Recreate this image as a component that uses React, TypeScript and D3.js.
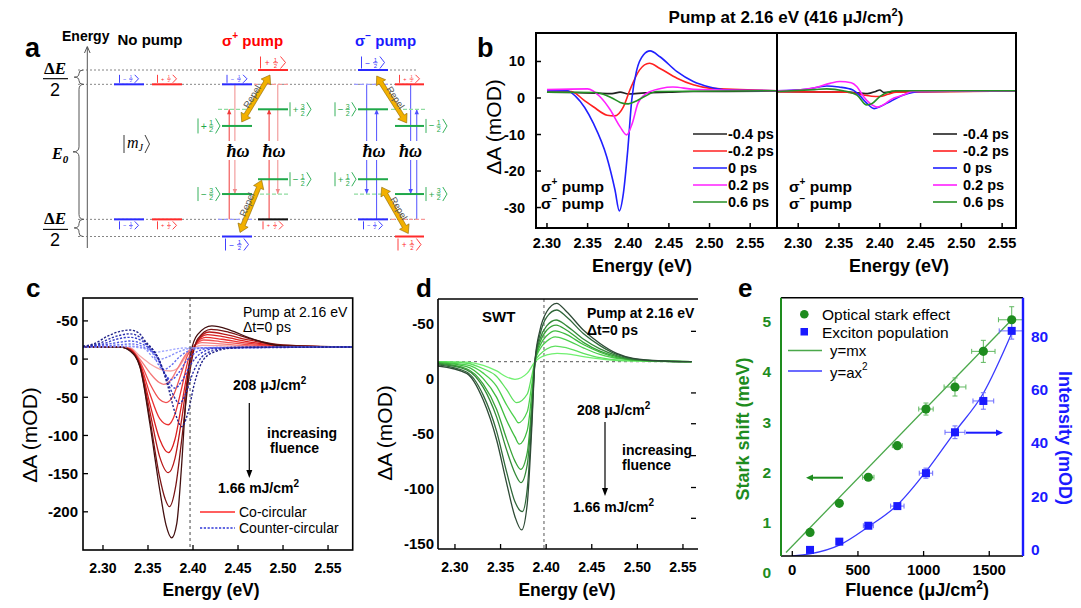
import React from "react";
import * as d3 from "d3";

type Pt = [number, number];

const SANS = "'Liberation Sans', Arial, Helvetica, sans-serif";
const SERIF = "'Liberation Serif', 'DejaVu Serif', 'Times New Roman', serif";

// ================= Panel a (schematic) =================
const aLevelEnergy: Record<string, number> = { bot: 0, lo: 0.103, gLo: 0.255, gLoS: 0.344, gUpS: 0.664, gUp: 0.764, up: 0.914, top: 1 };
const aColumns: Record<string, [number, number]> = { np1: [114, 144], np2: [152, 182], p1: [222, 252], p2: [258, 288], m1: [358, 388], m2: [395, 424] };
const aDashedGuides = ["top", "up", "lo", "bot"];
const A_B = "#2a2aff", A_R = "#ff2a2a", A_G = "#1fa84a", A_LB = "#9a9aff", A_LR = "#f79a9a", A_LG = "#8fdca0";
type Ket = { s: string; n: string; d: string; pos: string; h: number; w: number; color?: string };
type Level = { col: string; lvl: string; color: string; dash?: boolean; ket?: Ket };
const aLevels: Level[] = [
  { col: "np1", lvl: "up", color: A_B, ket: { s: "−", n: "1", d: "2", pos: "above", h: 8, w: 19 } },
  { col: "np2", lvl: "up", color: A_R, ket: { s: "+", n: "1", d: "2", pos: "above", h: 8, w: 19 } },
  { col: "np1", lvl: "lo", color: A_B, ket: { s: "−", n: "1", d: "2", pos: "below", h: 8, w: 19 } },
  { col: "np2", lvl: "lo", color: A_R, ket: { s: "+", n: "1", d: "2", pos: "below", h: 8, w: 19 } },
  { col: "p1", lvl: "up", color: A_B, ket: { s: "−", n: "1", d: "2", pos: "above", h: 8, w: 20 } },
  { col: "p2", lvl: "top", color: A_R, ket: { s: "+", n: "1", d: "2", pos: "above", h: 12, w: 25 } },
  { col: "p2", lvl: "up", color: A_LR, dash: true },
  { col: "p1", lvl: "gUp", color: A_LG, dash: true },
  { col: "p1", lvl: "gUpS", color: A_G, ket: { s: "+", n: "1", d: "2", pos: "left", h: 15, w: 22 } },
  { col: "p2", lvl: "gUp", color: A_G, ket: { s: "+", n: "3", d: "2", pos: "right", h: 14, w: 21 } },
  { col: "p1", lvl: "gLo", color: A_G, ket: { s: "−", n: "3", d: "2", pos: "left", h: 14, w: 22 } },
  { col: "p2", lvl: "gLoS", color: A_G, ket: { s: "−", n: "1", d: "2", pos: "right", h: 14, w: 21 } },
  { col: "p2", lvl: "gLo", color: A_LG, dash: true },
  { col: "p1", lvl: "lo", color: A_LB, dash: true },
  { col: "p2", lvl: "lo", color: "#111111", ket: { s: "+", n: "1", d: "2", pos: "below", h: 8, w: 20, color: A_R } },
  { col: "p1", lvl: "bot", color: A_B, ket: { s: "−", n: "1", d: "2", pos: "below", h: 12, w: 23 } },
  { col: "m1", lvl: "top", color: A_B, ket: { s: "−", n: "1", d: "2", pos: "above", h: 12, w: 23 } },
  { col: "m1", lvl: "up", color: A_LB, dash: true },
  { col: "m2", lvl: "up", color: A_R, ket: { s: "+", n: "1", d: "2", pos: "above", h: 8, w: 20 } },
  { col: "m1", lvl: "gUp", color: A_G, ket: { s: "−", n: "3", d: "2", pos: "left", h: 14, w: 21 } },
  { col: "m2", lvl: "gUp", color: A_LG, dash: true },
  { col: "m2", lvl: "gUpS", color: A_G, ket: { s: "−", n: "1", d: "2", pos: "right", h: 14, w: 21 } },
  { col: "m1", lvl: "gLoS", color: A_G, ket: { s: "+", n: "1", d: "2", pos: "left", h: 14, w: 21 } },
  { col: "m1", lvl: "gLo", color: A_LG, dash: true },
  { col: "m2", lvl: "gLo", color: A_G, ket: { s: "+", n: "3", d: "2", pos: "right", h: 14, w: 21 } },
  { col: "m1", lvl: "lo", color: A_B, ket: { s: "−", n: "1", d: "2", pos: "below", h: 8, w: 19 } },
  { col: "m2", lvl: "lo", color: A_LR, dash: true },
  { col: "m2", lvl: "bot", color: A_R, ket: { s: "+", n: "1", d: "2", pos: "below", h: 12, w: 23 } },
];
const aTransitions: { col: string; f: number; from: string; to: string; color: string }[] = [
  { col: "p1", f: 0.24, from: "lo", to: "gUp", color: "#f03a3a" },
  { col: "p1", f: 0.43, from: "up", to: "gLo", color: "#f08a8a" },
  { col: "p2", f: 0.37, from: "lo", to: "gUp", color: "#f03a3a" },
  { col: "p2", f: 0.66, from: "up", to: "gLo", color: "#f08a8a" },
  { col: "m1", f: 0.29, from: "up", to: "gLo", color: "#5050ff" },
  { col: "m1", f: 0.62, from: "lo", to: "gUp", color: "#5050ff" },
  { col: "m2", f: 0.54, from: "up", to: "gLo", color: "#5050ff" },
  { col: "m2", f: 0.75, from: "lo", to: "gUp", color: "#5050ff" },
];
const aHbarCols = ["p1", "p2", "m1", "m2"];
const aRepel: { a: [number, string]; b: [number, string]; ang: number }[] = [
  { a: [241.7, "gUpS"], b: [270, "top"], ang: -1 },
  { a: [240, "bot"], b: [261.7, "gLoS"], ang: -1 },
  { a: [376.7, "top"], b: [406.7, "gUpS"], ang: 1 },
  { a: [381.7, "gLoS"], b: [408.3, "bot"], ang: 1 },
];

// ================= Panel b =================
const bDelayLabels = ["-0.4 ps", "-0.2 ps", "0 ps", "0.2 ps", "0.6 ps"];
const bDelayColors = ["#222222", "#ff2020", "#2020ff", "#ff20ff", "#259025"];
const bXTicks = [2.3, 2.35, 2.4, 2.45, 2.5, 2.55];
const bYTicks = [10, 0, -10, -20, -30];
const bLeftM04: Pt[] = [[2.3, 1.6], [2.33, 1.5], [2.36, 1.3], [2.38, 1.2], [2.39, 1.6], [2.4, 1.1], [2.42, 1.4], [2.45, 1.6], [2.48, 1.8], [2.52, 1.8], [2.583, 1.9]];
const bLeftM02: Pt[] = [[2.3, 2], [2.33, 1.8], [2.345, -0.5], [2.357, -2.4], [2.374, -4.7], [2.383, -4.9], [2.394, -2.4], [2.402, 2.2], [2.414, 7.7], [2.426, 9.5], [2.439, 8.1], [2.46, 5.4], [2.48, 3.6], [2.5, 2.7], [2.583, 2]];
const bLeft0: Pt[] = [[2.3, 2], [2.325, 2], [2.335, 0.5], [2.357, -6.9], [2.3735, -16.1], [2.3837, -25.2], [2.389, -30.9], [2.394, -26.1], [2.3994, -14.2], [2.4043, -0.5], [2.4105, 7.7], [2.4186, 11.8], [2.4268, 12.9], [2.439, 11.3], [2.46, 7.2], [2.48, 4.5], [2.5, 3], [2.522, 2.2], [2.583, 2]];
const bLeft02: Pt[] = [[2.3, 2.3], [2.35, 2.5], [2.365, 0.4], [2.378, -3.3], [2.39, -7.9], [2.398, -10.1], [2.405, -6.9], [2.412, -1.4], [2.423, 1.3], [2.44, 2.6], [2.455, 3], [2.48, 2.4], [2.583, 2]];
const bLeft06: Pt[] = [[2.3, 1.6], [2.36, 1.5], [2.38, 0], [2.39, -1.2], [2.4, -1.6], [2.41, -0.8], [2.42, 0.4], [2.435, 1.8], [2.583, 2]];
const bRightM04: Pt[] = [[2.274, 1.7], [2.36, 1.6], [2.385, 1.2], [2.395, 1.8], [2.4, 2.2], [2.405, 1.5], [2.42, 1.7], [2.567, 1.9]];
const bRightM02: Pt[] = [[2.274, 1.7], [2.36, 1.6], [2.38, 0.8], [2.39, 0.5], [2.4, 0.4], [2.41, 1], [2.42, 1.6], [2.567, 1.9]];
const bRight0: Pt[] = [[2.274, 2], [2.31, 2.4], [2.335, 3.3], [2.35, 3], [2.367, 2.2], [2.376, 0.5], [2.384, -1.4], [2.393, -2.9], [2.4, -2.4], [2.409, -1.4], [2.429, 0.8], [2.45, 1.8], [2.567, 2]];
const bRight02: Pt[] = [[2.274, 2], [2.3, 2.2], [2.32, 2.8], [2.339, 4], [2.351, 4.5], [2.365, 4.2], [2.372, 3.1], [2.38, 0.4], [2.388, -1.5], [2.397, -2.5], [2.405, -1.8], [2.413, -0.5], [2.429, 0.8], [2.44, 1.8], [2.567, 2]];
const bRight06: Pt[] = [[2.274, 1.8], [2.32, 2.3], [2.335, 2.5], [2.355, 2], [2.372, 0.8], [2.384, -1.9], [2.39, -1.6], [2.4, 0.4], [2.42, 2], [2.567, 2]];
const bLeftSeries = [bLeftM04, bLeftM02, bLeft0, bLeft02, bLeft06];
const bRightSeries = [bRightM04, bRightM02, bRight0, bRight02, bRight06];

// ================= Panel c =================
const cXTicks = [2.3, 2.35, 2.4, 2.45, 2.5, 2.55];
const cYTicks = [50, 0, -50, -100, -150, -200];
const cYTickLabels = ["-50", "0", "-50", "-100", "-150", "-200"];
const cExcitonLine = 2.3967;
const cCoCircular: Pt[][] = [
  [[2.2778, 15.8], [2.32, 15.8], [2.33, 15], [2.341, 4], [2.352, -6], [2.363, -13], [2.375, -15.6], [2.383, -12], [2.391, 2], [2.398, 13], [2.41, 18], [2.43, 17.5], [2.46, 16.5], [2.5, 16], [2.5774, 15.8]],
  [[2.2778, 15.8], [2.32, 15.8], [2.33, 14], [2.341, 0], [2.352, -18], [2.363, -31], [2.3674, -33], [2.375, -28], [2.383, -12], [2.392, 6], [2.4, 16], [2.41, 21.5], [2.43, 20], [2.46, 17.5], [2.5, 16.3], [2.5774, 15.8]],
  [[2.2778, 15.8], [2.32, 15.8], [2.33, 13.5], [2.341, -3], [2.352, -32], [2.363, -53], [2.37, -57], [2.378, -48], [2.386, -22], [2.394, 5], [2.402, 18], [2.412, 25], [2.43, 23], [2.46, 19], [2.5, 16.6], [2.5774, 15.8]],
  [[2.2778, 15.8], [2.32, 15.8], [2.33, 13], [2.341, -5], [2.352, -45], [2.363, -78], [2.3726, -86], [2.38, -72], [2.387, -40], [2.395, 0], [2.403, 20], [2.414, 28.5], [2.432, 26], [2.46, 21], [2.5, 17], [2.5774, 15.8]],
  [[2.2778, 15.8], [2.32, 15.8], [2.33, 12.5], [2.341, -7], [2.352, -58], [2.363, -105], [2.3726, -122.6], [2.38, -105], [2.387, -62], [2.396, -5], [2.404, 22], [2.416, 32], [2.435, 29], [2.46, 23], [2.5, 17.5], [2.5774, 15.8]],
  [[2.2778, 15.8], [2.32, 15.8], [2.33, 12], [2.341, -8], [2.352, -68], [2.363, -128], [2.3726, -148.8], [2.38, -130], [2.387, -82], [2.396, -10], [2.405, 24], [2.418, 35.5], [2.437, 32], [2.46, 25.5], [2.5, 18], [2.5774, 15.8]],
  [[2.2778, 15.8], [2.32, 15.8], [2.33, 11.5], [2.341, -9], [2.352, -78], [2.363, -155], [2.369, -183], [2.3737, -193.3], [2.381, -165], [2.387, -110], [2.396, -20], [2.405, 26], [2.42, 39], [2.44, 35], [2.465, 26], [2.5, 18.5], [2.5774, 15.8]],
  [[2.2778, 15.8], [2.32, 15.8], [2.33, 10.6], [2.341, -10], [2.352, -84], [2.363, -171], [2.37, -217], [2.3763, -234], [2.382, -215], [2.387, -145], [2.392, -54], [2.398, 10], [2.405, 32], [2.421, 43.4], [2.441, 38], [2.463, 27.6], [2.5, 17.2], [2.5774, 15.8]],
];
const cCounterCircular: Pt[][] = [
  [[2.2778, 15.8], [2.33, 16], [2.345, 14], [2.358, 9], [2.37, 11], [2.39, 14.5], [2.5774, 15.8]],
  [[2.2778, 15.8], [2.31, 16.5], [2.33, 17], [2.345, 14.5], [2.36, -1], [2.37, 2], [2.385, 10], [2.4, 14.5], [2.5774, 15.8]],
  [[2.2778, 15.8], [2.3, 17], [2.32, 19], [2.332, 19.8], [2.345, 16], [2.355, 8], [2.362, -8], [2.367, -14], [2.375, -9], [2.385, 3], [2.398, 12], [2.415, 15], [2.5774, 15.8]],
  [[2.2778, 16], [2.3, 18.5], [2.318, 22], [2.33, 23.7], [2.343, 20], [2.353, 12], [2.36, 2], [2.368, -18], [2.376, -27], [2.384, -18], [2.393, -2], [2.405, 10], [2.42, 14.5], [2.5774, 15.8]],
  [[2.2778, 16], [2.3, 20], [2.315, 26], [2.33, 28.5], [2.343, 24], [2.352, 14], [2.36, 4], [2.37, -22], [2.38, -38], [2.388, -28], [2.397, -8], [2.408, 7], [2.425, 14], [2.5774, 15.8]],
  [[2.2778, 16.5], [2.295, 20], [2.31, 28], [2.33, 33], [2.342, 28], [2.35, 18], [2.357, 10], [2.366, -12], [2.376, -42], [2.385, -58], [2.392, -45], [2.4, -18], [2.41, 3], [2.425, 12], [2.445, 15.5], [2.5774, 15.8]],
  [[2.2778, 17], [2.29, 20], [2.305, 30], [2.318, 36], [2.33, 38], [2.34, 34], [2.348, 22], [2.355, 13], [2.362, 0], [2.372, -35], [2.38, -70], [2.3875, -88.5], [2.394, -72], [2.402, -30], [2.412, 0], [2.425, 10], [2.44, 14], [2.465, 15.5], [2.5774, 15.8]],
];
const cCoColors = ["#f7a4a4", "#f47a7a", "#f05050", "#ea3232", "#dc2020", "#b81818", "#7a1414", "#431010"];
const cCounterColors = ["#a4aaff", "#8890f8", "#6a70f0", "#4c52e2", "#3a40cc", "#2c30ac", "#20228a"];

// ================= Panel d =================
const dXTicks = [2.3, 2.35, 2.4, 2.45, 2.5, 2.55];
const dYTicks = [50, 0, -50, -100, -150];
const dYTickLabels = ["-50", "0", "-50", "-100", "-150"];
const dRightMinorTicks = [43, -13, -41, -70, -99, -127];
const dBaseline = 15.4;
const dExcitonLine = 2.3976;
const dSWT: Pt[][] = [
  [[2.2814, 15.4], [2.3128, 15], [2.331, 12], [2.3457, 7], [2.3567, 1.5], [2.3658, -0.6], [2.3793, 5], [2.3877, 15.4], [2.3932, 19], [2.4006, 21.5], [2.412, 23], [2.4225, 22.5], [2.4407, 20], [2.459, 18], [2.4773, 16.5], [2.5595, 15.4]],
  [[2.2814, 15.4], [2.3128, 14], [2.331, 9], [2.3457, 2], [2.3567, -10], [2.3676, -21.9], [2.3793, -14], [2.3841, 2], [2.3877, 15.4], [2.3932, 22], [2.4006, 27], [2.41, 29.6], [2.4225, 28], [2.4407, 23], [2.459, 19], [2.4773, 17], [2.5595, 15.4]],
  [[2.2814, 15], [2.3128, 12.5], [2.331, 5], [2.3457, -7], [2.3567, -24], [2.3658, -36], [2.3694, -40.1], [2.3793, -30], [2.3841, -6], [2.3877, 15.4], [2.3932, 27], [2.4006, 34], [2.41, 38], [2.4225, 35], [2.4407, 28], [2.459, 22], [2.4773, 18.5], [2.5595, 15.4]],
  [[2.2814, 14.5], [2.3128, 11], [2.331, 0], [2.3457, -17], [2.3567, -38], [2.3658, -53], [2.3705, -59.5], [2.3793, -47], [2.3841, -15], [2.3877, 15.4], [2.3932, 30], [2.4006, 39], [2.41, 43.5], [2.4225, 40], [2.4407, 31], [2.459, 24], [2.4773, 19], [2.4955, 16.8], [2.5595, 15.4]],
  [[2.2814, 14], [2.3128, 9], [2.331, -5], [2.3457, -28], [2.3567, -55], [2.3658, -75], [2.372, -82.5], [2.3793, -67], [2.3841, -25], [2.3877, 15.4], [2.3932, 33], [2.4006, 44], [2.411, 48.7], [2.4225, 44], [2.4407, 33], [2.459, 25], [2.4773, 20], [2.4955, 17], [2.5321, 15.6], [2.5595, 15.4]],
  [[2.2814, 13.5], [2.3128, 8], [2.331, -8], [2.3457, -35], [2.3567, -65], [2.3658, -86], [2.3724, -94.6], [2.3793, -78], [2.3841, -30], [2.3877, 15.4], [2.3932, 36], [2.4006, 48], [2.411, 53.3], [2.4225, 48], [2.4407, 36], [2.459, 27], [2.4773, 21], [2.4955, 17.5], [2.5321, 15.8], [2.5595, 15.4]],
  [[2.2814, 12.5], [2.3128, 6], [2.331, -15], [2.3457, -48], [2.3567, -85], [2.3658, -112], [2.3738, -121], [2.3793, -100], [2.3841, -40], [2.3877, 15.4], [2.3932, 40], [2.4006, 56], [2.4115, 62.4], [2.4225, 56], [2.4407, 41], [2.459, 30], [2.4773, 22], [2.4955, 18], [2.5321, 15.8], [2.5595, 15.4]],
  [[2.2814, 11.5], [2.3128, 4.8], [2.331, -19.5], [2.3457, -55.8], [2.3567, -95.2], [2.3658, -125.5], [2.3731, -137.6], [2.3793, -113.4], [2.3841, -46.7], [2.3877, 15.4], [2.3932, 44.2], [2.4006, 60.8], [2.4115, 68.5], [2.4225, 60.8], [2.4407, 44.2], [2.459, 32], [2.4773, 23], [2.4955, 18.5], [2.5321, 16], [2.5595, 15.4]],
];
const dColors = ["#70f070", "#5ee05e", "#4cd04c", "#3ebc3e", "#38a438", "#348a38", "#30683a", "#2e4a36"];

// ================= Panel e =================
const eXTicks = [0, 500, 1000, 1500];
const eLeftTicks = [0, 1, 2, 3, 4, 5];
const eRightTicks = [0, 20, 40, 60, 80];
const eFluence = [135, 358, 579, 800, 1018, 1239, 1455, 1671];
const eStark = [0.8, 1.38, 1.9, 2.53, 3.26, 3.7, 4.41, 5.04];
const eStarkYErr = [0, 0, 0.03, 0.05, 0.12, 0.18, 0.22, 0.26];
const eStarkXErr = [0, 0, 43, 38, 55, 83, 89, 101];
const ePop = [-0.3, 2.8, 8.8, 16.2, 28.6, 44.0, 55.8, 82.2];
const ePopYErr = [0, 0, 0.6, 0.8, 1.9, 2.4, 3.1, 3.1];
const ePopXErr = [0, 0, 38, 51, 51, 76, 79, 95];
const eLinearFit: Pt[] = [[-48, 0.4], [1671, 5.04]];
const eQuadFit: Pt[] = [[0, -2.6], [135, -1.8], [358, 1.5], [579, 8.4], [800, 16.6], [1018, 29.2], [1239, 44.2], [1455, 58.7], [1671, 81.3]];
const E_G = "#1e8c1e", E_B = "#1a1aff";

// ---------------- helpers ----------------
function KetLabel({ cx, cy, h, w, k, color }: { cx: number; cy: number; h: number; w: number; k: Ket; color: string }) {
  const x0 = cx - w / 2;
  const top = cy - h / 2, bot = cy + h / 2;
  const fx = x0 + w * 0.6;
  return (
    <g fontFamily={SANS} fill={color}>
      <line x1={x0} x2={x0} y1={top} y2={bot} stroke={color} strokeWidth={0.9} />
      <text x={x0 + w * 0.27} y={cy} fontSize={h * 0.7} textAnchor="middle" dominantBaseline="central">{k.s}</text>
      <text x={fx} y={cy - h * 0.23} fontSize={h * 0.5} textAnchor="middle" dominantBaseline="central">{k.n}</text>
      <line x1={fx - w * 0.1} x2={fx + w * 0.1} y1={cy + 0.2} y2={cy + 0.2} stroke={color} strokeWidth={0.7} />
      <text x={fx} y={cy + h * 0.27} fontSize={h * 0.5} textAnchor="middle" dominantBaseline="central">{k.d}</text>
      <polyline points={`${x0 + w * 0.8},${top} ${x0 + w},${cy} ${x0 + w * 0.8},${bot}`} fill="none" stroke={color} strokeWidth={0.9} />
    </g>
  );
}

function bracePath(x: number, y1: number, y2: number, w: number) {
  const m = (y1 + y2) / 2;
  const r = Math.min(w * 0.5, (y2 - y1) / 4);
  return `M${x + w * 0.5},${y1} Q${x},${y1} ${x},${y1 + r} L${x},${m - r} Q${x},${m} ${x - w * 0.6},${m} Q${x},${m} ${x},${m + r} L${x},${y2 - r} Q${x},${y2} ${x + w * 0.5},${y2}`;
}

function doubleArrow(x1: number, y1: number, x2: number, y2: number) {
  const dx = x2 - x1, dy = y2 - y1;
  const L = Math.hypot(dx, dy);
  const ux = dx / L, uy = dy / L, nx = -uy, ny = ux;
  const sw = 2.2, hl = 8, hw = 5.5;
  const loc: Pt[] = [[0, 0], [hl, hw], [hl, sw], [L - hl, sw], [L - hl, hw], [L, 0], [L - hl, -hw], [L - hl, -sw], [hl, -sw], [hl, -hw]];
  return loc.map(([a, b]) => `${x1 + ux * a + nx * b},${y1 + uy * a + ny * b}`).join(" ");
}

// ---------------- Panel a ----------------
function PanelA() {
  const y = d3.scaleLinear().domain([0, 1]).range([236.5, 70]);
  const gapTop = 141, gapBot = 160;
  return (
    <g>
      <text x={25} y={57} fontSize={27} fontWeight="bold">a</text>
      <text x={62} y={41} fontSize={14} fontWeight="bold">Energy</text>
      <text x={150} y={45} fontSize={15} fontWeight="bold" textAnchor="middle">No pump</text>
      <text x={222} y={46} fontSize={15} fontWeight="bold" fill="#ff0000">σ<tspan dy={-7} fontSize={10}>+</tspan><tspan dy={7}> pump</tspan></text>
      <text x={355} y={46} fontSize={15} fontWeight="bold" fill="#1a1aff">σ<tspan dy={-7} fontSize={10}>−</tspan><tspan dy={7}> pump</tspan></text>
      <line x1={87.3} x2={87.3} y1={248} y2={47} stroke="#555" strokeWidth={1} />
      <polyline points="84.5,53 87.3,46.5 90.1,53" fill="none" stroke="#555" strokeWidth={1} />
      {aDashedGuides.map((g) => (
        <line key={g} x1={78} x2={418} y1={y(aLevelEnergy[g])} y2={y(aLevelEnergy[g])} stroke="#777" strokeWidth={0.9} strokeDasharray="2,2" />
      ))}
      <path d={bracePath(79, y(aLevelEnergy.top), y(aLevelEnergy.up), 8)} fill="none" stroke="#555" strokeWidth={1} />
      <path d={bracePath(79, y(aLevelEnergy.up), y(aLevelEnergy.lo), 10)} fill="none" stroke="#555" strokeWidth={1} />
      <path d={bracePath(79, y(aLevelEnergy.lo), y(aLevelEnergy.bot), 8)} fill="none" stroke="#555" strokeWidth={1} />
      {[[y(aLevelEnergy.top), y(aLevelEnergy.up)], [y(aLevelEnergy.lo), y(aLevelEnergy.bot)]].map(([a, b], i) => {
        const m = (a + b) / 2 + 1.5;
        return (
          <g key={i} fontFamily={SERIF}>
            <text x={55} y={m - 5} fontSize={17} fontWeight="bold" textAnchor="middle">Δ<tspan fontStyle="italic">E</tspan></text>
            <line x1={43} x2={68} y1={m} y2={m} stroke="#111" strokeWidth={1.2} />
            <text x={55} y={m + 17} fontSize={18} textAnchor="middle" fontFamily={SANS}>2</text>
          </g>
        );
      })}
      <text x={52} y={159} fontSize={16} fontWeight="bold" fontStyle="italic" fontFamily={SERIF}>E<tspan fontSize={11} dy={4}>0</tspan></text>
      <g fontFamily={SERIF} fontStyle="italic">
        <line x1={124} x2={124} y1={135} y2={153} stroke="#222" strokeWidth={0.9} />
        <text x={127} y={148} fontSize={16}>m<tspan fontSize={10} dy={3}>J</tspan></text>
        <polyline points="145,135 149.5,144 145,153" fill="none" stroke="#222" strokeWidth={0.9} />
      </g>
      {aTransitions.map((t, i) => {
        const [c0, c1] = aColumns[t.col];
        const x = c0 + (c1 - c0) * t.f;
        const yf = y(aLevelEnergy[t.from]), yt = y(aLevelEnergy[t.to]);
        const up = yt < yf;
        const yA = Math.min(yf, yt), yB = Math.max(yf, yt);
        const tipY = yt;
        const head = up ? `${x - 2.2},${tipY + 5} ${x},${tipY} ${x + 2.2},${tipY + 5}` : `${x - 2.2},${tipY - 5} ${x},${tipY} ${x + 2.2},${tipY - 5}`;
        return (
          <g key={i}>
            <line x1={x} x2={x} y1={yA} y2={gapTop} stroke={t.color} strokeWidth={1} />
            <line x1={x} x2={x} y1={gapBot} y2={yB} stroke={t.color} strokeWidth={1} />
            <polygon points={head} fill={t.color} />
          </g>
        );
      })}
      {aLevels.map((l, i) => {
        const [x1, x2] = aColumns[l.col];
        const yy = y(aLevelEnergy[l.lvl]);
        let ket = null as any;
        if (l.ket) {
          const k = l.ket;
          let cx = (x1 + x2) / 2, cy = yy;
          if (k.pos === "above") cy = yy - k.h / 2 - 1.5;
          if (k.pos === "below") cy = yy + k.h / 2 + 2;
          if (k.pos === "left") cx = x1 - 2 - k.w / 2;
          if (k.pos === "right") cx = x2 + 2 + k.w / 2;
          ket = <KetLabel cx={cx} cy={cy} h={k.h} w={k.w} k={k} color={k.color || l.color} />;
        }
        return (
          <g key={i}>
            <line x1={l.dash ? x1 - 4 : x1} x2={l.dash ? x2 + 2 : x2} y1={yy} y2={yy} stroke={l.color} strokeWidth={l.dash ? 1.2 : 2} strokeDasharray={l.dash ? "4,2" : undefined} />
            {ket}
          </g>
        );
      })}
      {aHbarCols.map((c) => {
        const [x1, x2] = aColumns[c];
        return <text key={c} x={(x1 + x2) / 2 + 1} y={151} fontFamily={SERIF} fontSize={18} fontWeight="bold" fontStyle="italic" textAnchor="middle" dominantBaseline="central">ħω</text>;
      })}
      {aRepel.map((r, i) => {
        const x1 = r.a[0], y1 = y(aLevelEnergy[r.a[1]]) - (r.a[1] === "gUpS" ? 4 : r.a[1] === "bot" ? 4 : r.a[1] === "gLoS" ? -8 : -6);
        const x2 = r.b[0], y2 = y(aLevelEnergy[r.b[1]]) + (r.b[1] === "top" ? 5 : r.b[1] === "gUpS" ? -3 : r.b[1] === "gLoS" ? 1 : -3);
        const mx = (x1 + x2) / 2, my = (y1 + y2) / 2;
        let ang = (Math.atan2(y2 - y1, x2 - x1) * 180) / Math.PI;
        if (ang > 90) ang -= 180;
        if (ang < -90) ang += 180;
        const off = r.ang < 0 ? -4 : 4;
        return (
          <g key={i}>
            <polygon points={doubleArrow(x1, y1, x2, y2)} fill="#f2b000" stroke="#8a6400" strokeWidth={0.6} />
            <text x={mx + off} y={my - 2} fontSize={9.5} fill="#555" textAnchor="middle" dominantBaseline="central" transform={`rotate(${ang},${mx + off},${my - 2})`}>Repel</text>
          </g>
        );
      })}
    </g>
  );
}

// ---------------- Panel b ----------------
function PanelB() {
  const y = d3.scaleLinear().domain([-35.6, 17.8]).range([228, 33]);
  const xL = d3.scaleLinear().domain([2.2865, 2.583]).range([536, 777]);
  const xR = d3.scaleLinear().domain([2.274, 2.567]).range([777, 1016]);
  const lineL = d3.line<Pt>().x((d) => xL(d[0])).y((d) => y(d[1])).curve(d3.curveMonotoneX);
  const lineR = d3.line<Pt>().x((d) => xR(d[0])).y((d) => y(d[1])).curve(d3.curveMonotoneX);
  const legend = (x0: number) => (
    <g>
      {bDelayLabels.map((lab, i) => {
        const yy = 134 + i * 17;
        return (
          <g key={i}>
            <line x1={x0} x2={x0 + (x0 > 900 ? 24 : 34)} y1={yy} y2={yy} stroke={bDelayColors[i]} strokeWidth={1.6} />
            <text x={x0 + (x0 > 900 ? 30 : 35)} y={yy} fontSize={14.5} fontWeight="bold" dominantBaseline="central">{lab}</text>
          </g>
        );
      })}
    </g>
  );
  const sigmas = (x0: number) => (
    <g fontSize={15.5} fontWeight="bold">
      <text x={x0} y={192}>σ<tspan dy={-7} fontSize={10}>+</tspan><tspan dy={7}> pump</tspan></text>
      <text x={x0} y={209}>σ<tspan dy={-7} fontSize={10}>−</tspan><tspan dy={7}> pump</tspan></text>
    </g>
  );
  return (
    <g>
      <defs>
        <clipPath id="clipBL"><rect x={536} y={33} width={241} height={195} /></clipPath>
        <clipPath id="clipBR"><rect x={777} y={33} width={239} height={195} /></clipPath>
      </defs>
      <text x={477} y={56.5} fontSize={27} fontWeight="bold">b</text>
      <text x={786} y={23} fontSize={17} fontWeight="bold" textAnchor="middle">Pump at 2.16 eV (416 μJ/cm<tspan dy={-7} fontSize={11}>2</tspan><tspan dy={7}>)</tspan></text>
      <g clipPath="url(#clipBL)">
        {bLeftSeries.map((s, i) => <path key={i} d={lineL(s) || ""} fill="none" stroke={bDelayColors[i]} strokeWidth={1.6} />)}
      </g>
      <g clipPath="url(#clipBR)">
        {bRightSeries.map((s, i) => <path key={i} d={lineR(s) || ""} fill="none" stroke={bDelayColors[i]} strokeWidth={1.6} />)}
      </g>
      {legend(693)}
      {legend(933)}
      {sigmas(541)}
      {sigmas(789)}
      <rect x={536} y={33} width={480} height={195} fill="none" stroke="#000" strokeWidth={2} />
      <line x1={777} x2={777} y1={33} y2={228} stroke="#000" strokeWidth={2} />
      {bYTicks.map((t) => (
        <g key={t}>
          <line x1={536} x2={541} y1={y(t)} y2={y(t)} stroke="#000" strokeWidth={1.5} />
          <text x={525} y={y(t)} fontSize={14.5} fontWeight="bold" textAnchor="end" dominantBaseline="central">{t}</text>
        </g>
      ))}
      {bXTicks.map((t) => (
        <g key={t}>
          <line x1={xL(t)} x2={xL(t)} y1={228} y2={223} stroke="#000" strokeWidth={1.5} />
          <text x={xL(t)} y={248} fontSize={14.5} fontWeight="bold" textAnchor="middle">{t.toFixed(2)}</text>
          <line x1={xR(t)} x2={xR(t)} y1={228} y2={223} stroke="#000" strokeWidth={1.5} />
          <text x={xR(t)} y={248} fontSize={14.5} fontWeight="bold" textAnchor="middle">{t.toFixed(2)}</text>
        </g>
      ))}
      <text x={642} y={272} fontSize={18} fontWeight="bold" textAnchor="middle">Energy (eV)</text>
      <text x={899} y={272} fontSize={18} fontWeight="bold" textAnchor="middle">Energy (eV)</text>
      <text transform="translate(493,127) rotate(-90)" fontSize={21} textAnchor="middle" dominantBaseline="central">ΔA (mOD)</text>
    </g>
  );
}

// ---------------- Panel c ----------------
function PanelC() {
  const x = d3.scaleLinear().domain([2.2778, 2.5774]).range([83, 352.7]);
  const y = d3.scaleLinear().domain([-250, 80]).range([550, 298]);
  const line = d3.line<Pt>().x((d) => x(d[0])).y((d) => y(d[1])).curve(d3.curveMonotoneX);
  return (
    <g>
      <defs><clipPath id="clipC"><rect x={83} y={298} width={269.7} height={252} /></clipPath></defs>
      <text x={26} y={297} fontSize={26} fontWeight="bold">c</text>
      <g clipPath="url(#clipC)">
        {cCoCircular.map((s, i) => <path key={i} d={line(s) || ""} fill="none" stroke={cCoColors[i]} strokeWidth={1.3} />)}
        {cCounterCircular.map((s, i) => <path key={i} d={line(s) || ""} fill="none" stroke={cCounterColors[i]} strokeWidth={1.4} strokeDasharray="2.2,1.6" />)}
      </g>
      <line x1={x(cExcitonLine)} x2={x(cExcitonLine)} y1={298} y2={550} stroke="#444" strokeWidth={1} strokeDasharray="3,3" />
      <rect x={83} y={298} width={269.7} height={252} fill="none" stroke="#000" strokeWidth={1.6} />
      {cYTicks.map((t, i) => (
        <g key={t}>
          <line x1={83} x2={88} y1={y(t)} y2={y(t)} stroke="#000" strokeWidth={1.3} />
          <text x={78} y={y(t)} fontSize={15} fontWeight="bold" textAnchor="end" dominantBaseline="central">{cYTickLabels[i]}</text>
        </g>
      ))}
      {cXTicks.map((t) => (
        <g key={t}>
          <line x1={x(t)} x2={x(t)} y1={550} y2={545} stroke="#000" strokeWidth={1.3} />
          <text x={x(t)} y={573} fontSize={14} fontWeight="bold" textAnchor="middle">{t.toFixed(2)}</text>
        </g>
      ))}
      <text x={211} y={596} fontSize={17.5} fontWeight="bold" textAnchor="middle">Energy (eV)</text>
      <text transform="translate(29,435) rotate(-90)" fontSize={21} textAnchor="middle" dominantBaseline="central">ΔA (mOD)</text>
      <text x={243} y={317} fontSize={14}>Pump at 2.16 eV</text>
      <text x={243} y={332} fontSize={14}>Δt=0 ps</text>
      <text x={233} y={390} fontSize={14} fontWeight="bold">208 μJ/cm<tspan dy={-6} fontSize={10}>2</tspan></text>
      <line x1={249.3} x2={249.3} y1={403} y2={472} stroke="#000" strokeWidth={1.2} />
      <polygon points="246.3,470 249.3,478 252.3,470" fill="#000" />
      <text x={267} y={438} fontSize={14} fontWeight="bold">increasing</text>
      <text x={270} y={453} fontSize={14} fontWeight="bold">fluence</text>
      <text x={218} y={493} fontSize={14} fontWeight="bold">1.66 mJ/cm<tspan dy={-6} fontSize={10}>2</tspan></text>
      <line x1={200} x2={235} y1={512} y2={512} stroke="#ff2a2a" strokeWidth={1.4} />
      <text x={239} y={517} fontSize={14}>Co-circular</text>
      <line x1={200} x2={235} y1={528} y2={528} stroke="#3038d8" strokeWidth={1.4} strokeDasharray="2.2,1.6" />
      <text x={239} y={533} fontSize={14}>Counter-circular</text>
    </g>
  );
}

// ---------------- Panel d ----------------
function PanelD() {
  const x = d3.scaleLinear().domain([2.2814, 2.5632]).range([438, 695]);
  const y = d3.scaleLinear().domain([-154.9, 72.4]).range([549, 299]);
  const line = d3.line<Pt>().x((d) => x(d[0])).y((d) => y(d[1])).curve(d3.curveMonotoneX);
  return (
    <g>
      <defs><clipPath id="clipD"><rect x={438} y={299} width={257} height={250} /></clipPath></defs>
      <text x={416} y={297} fontSize={26} fontWeight="bold">d</text>
      <line x1={x(2.2814)} x2={x(2.5595)} y1={y(dBaseline)} y2={y(dBaseline)} stroke="#555" strokeWidth={1} strokeDasharray="3,3" />
      <line x1={x(dExcitonLine)} x2={x(dExcitonLine)} y1={299} y2={549} stroke="#555" strokeWidth={1} strokeDasharray="3,3" />
      <g clipPath="url(#clipD)">
        {dSWT.map((s, i) => <path key={i} d={line(s) || ""} fill="none" stroke={dColors[i]} strokeWidth={1.3} />)}
      </g>
      <line x1={438} x2={698} y1={299} y2={299} stroke="#000" strokeWidth={1.6} />
      <line x1={438} x2={438} y1={299} y2={549} stroke="#000" strokeWidth={1.6} />
      <line x1={438} x2={698} y1={549} y2={549} stroke="#000" strokeWidth={1.6} />
      {dRightMinorTicks.map((t) => <line key={t} x1={691} x2={696} y1={y(t)} y2={y(t)} stroke="#000" strokeWidth={1.3} />)}
      {dYTicks.map((t, i) => (
        <g key={t}>
          <text x={434} y={y(t)} fontSize={15} fontWeight="bold" textAnchor="end" dominantBaseline="central">{dYTickLabels[i]}</text>
        </g>
      ))}
      {dXTicks.map((t) => (
        <g key={t}>
          <line x1={x(t)} x2={x(t)} y1={549} y2={544} stroke="#000" strokeWidth={1.3} />
          <text x={x(t)} y={572} fontSize={14} fontWeight="bold" textAnchor="middle">{t.toFixed(2)}</text>
        </g>
      ))}
      <text x={567} y={596} fontSize={17.5} fontWeight="bold" textAnchor="middle">Energy (eV)</text>
      <text transform="translate(384,433) rotate(-90)" fontSize={21} textAnchor="middle" dominantBaseline="central">ΔA (mOD)</text>
      <text x={482} y={322} fontSize={15} fontWeight="bold">SWT</text>
      <text x={587} y={318} fontSize={14} fontWeight="bold">Pump at 2.16 eV</text>
      <text x={587} y={335} fontSize={14} fontWeight="bold">Δt=0 ps</text>
      <text x={577} y={415} fontSize={14} fontWeight="bold">208 μJ/cm<tspan dy={-6} fontSize={10}>2</tspan></text>
      <line x1={605} x2={605} y1={422} y2={490} stroke="#000" strokeWidth={1.2} />
      <polygon points="602,488 605,496 608,488" fill="#000" />
      <text x={622} y={455} fontSize={14} fontWeight="bold">increasing</text>
      <text x={622} y={470} fontSize={14} fontWeight="bold">fluence</text>
      <text x={573} y={512} fontSize={14} fontWeight="bold">1.66 mJ/cm<tspan dy={-6} fontSize={10}>2</tspan></text>
    </g>
  );
}

// ---------------- Panel e ----------------
function PanelE() {
  const x = d3.scaleLinear().domain([-86, 1757]).range([781, 1023]);
  const yL = d3.scaleLinear().domain([0.33, 5.48]).range([556, 297.7]);
  const yR = d3.scaleLinear().domain([-2.6, 94.7]).range([556, 297.7]);
  const lin = d3.line<Pt>().x((d) => x(d[0])).y((d) => yL(d[1]));
  const quad = d3.line<Pt>().x((d) => x(d[0])).y((d) => yR(d[1])).curve(d3.curveMonotoneX);
  const errBars = (vals: number[], xe: number[], ye: number[], ys: (v: number) => number, color: string) =>
    eFluence.map((f, i) => {
      const cx = x(f), cy = ys(vals[i]);
      return (
        <g key={i} stroke={color} strokeWidth={1}>
          {xe[i] > 0 && (
            <g>
              <line x1={x(f - xe[i])} x2={x(f + xe[i])} y1={cy} y2={cy} />
              <line x1={x(f - xe[i])} x2={x(f - xe[i])} y1={cy - 2.5} y2={cy + 2.5} />
              <line x1={x(f + xe[i])} x2={x(f + xe[i])} y1={cy - 2.5} y2={cy + 2.5} />
            </g>
          )}
          {ye[i] > 0 && (
            <g>
              <line x1={cx} x2={cx} y1={ys(vals[i] - ye[i])} y2={ys(vals[i] + ye[i])} />
              <line x1={cx - 2.5} x2={cx + 2.5} y1={ys(vals[i] - ye[i])} y2={ys(vals[i] - ye[i])} />
              <line x1={cx - 2.5} x2={cx + 2.5} y1={ys(vals[i] + ye[i])} y2={ys(vals[i] + ye[i])} />
            </g>
          )}
        </g>
      );
    });
  return (
    <g>
      <defs><clipPath id="clipE"><rect x={781} y={297.7} width={242} height={258.3} /></clipPath></defs>
      <text x={738} y={296.5} fontSize={26} fontWeight="bold">e</text>
      <g clipPath="url(#clipE)">
        <path d={lin(eLinearFit) || ""} fill="none" stroke="#4aa84a" strokeWidth={1.3} />
        <path d={quad(eQuadFit) || ""} fill="none" stroke="#3a3aff" strokeWidth={1.3} />
        {errBars(eStark, eStarkXErr, eStarkYErr, yL, "#5fb85f")}
        {errBars(ePop, ePopXErr, ePopYErr, yR, "#6a6aff")}
        {eFluence.map((f, i) => <circle key={"g" + i} cx={x(f)} cy={yL(eStark[i])} r={4.6} fill={E_G} />)}
        {eFluence.map((f, i) => <rect key={"b" + i} x={x(f) - 4} y={yR(ePop[i]) - 4} width={8} height={8} fill={E_B} />)}
      </g>
      <line x1={781} x2={1023} y1={297.7} y2={297.7} stroke="#000" strokeWidth={1.6} />
      <line x1={781} x2={1023} y1={556} y2={556} stroke="#000" strokeWidth={1.6} />
      <line x1={781} x2={781} y1={297.7} y2={556} stroke={E_G} strokeWidth={2} />
      <line x1={1023} x2={1023} y1={297.7} y2={556} stroke={E_B} strokeWidth={2.4} />
      {eXTicks.map((t) => (
        <g key={t}>
          <line x1={x(t)} x2={x(t)} y1={556} y2={551} stroke="#000" strokeWidth={1.3} />
          <text x={x(t)} y={575} fontSize={15} fontWeight="bold" textAnchor="middle">{t}</text>
        </g>
      ))}
      {eLeftTicks.map((t) => (
        <text key={t} x={771} y={yL(t)} fontSize={15.5} fontWeight="bold" fill={E_G} textAnchor="end" dominantBaseline="central">{t}</text>
      ))}
      {eRightTicks.map((t) => (
        <text key={t} x={1031} y={yR(t)} fontSize={15.5} fontWeight="bold" fill={E_B} textAnchor="start" dominantBaseline="central">{t}</text>
      ))}
      <text transform="translate(743,429) rotate(-90)" fontSize={18} fontWeight="bold" fill={E_G} textAnchor="middle" dominantBaseline="central">Stark shift (meV)</text>
      <text transform="translate(1065,438) rotate(90)" fontSize={18} fontWeight="bold" fill={E_B} textAnchor="middle" dominantBaseline="central">Intensity (mOD)</text>
      <text x={917} y={596} fontSize={18} fontWeight="bold" textAnchor="middle">Fluence (μJ/cm<tspan dy={-7} fontSize={12}>2</tspan><tspan dy={7}>)</tspan></text>
      <circle cx={804.3} cy={314.3} r={4.3} fill={E_G} />
      <text x={822} y={314.3} fontSize={15.5} dominantBaseline="central">Optical stark effect</text>
      <rect x={800.5} y={328} width={7.5} height={7.5} fill={E_B} />
      <text x={822} y={332} fontSize={15.5} dominantBaseline="central">Exciton population</text>
      <line x1={788} x2={822} y1={350.5} y2={350.5} stroke="#4aa84a" strokeWidth={1.3} />
      <text x={830} y={350.5} fontSize={15} dominantBaseline="central">y=mx</text>
      <line x1={788} x2={822} y1={371} y2={371} stroke="#3a3aff" strokeWidth={1.3} />
      <text x={830} y={372} fontSize={15} dominantBaseline="central">y=ax<tspan dy={-6} fontSize={10}>2</tspan></text>
      <line x1={843} x2={811} y1={477.7} y2={477.7} stroke={E_G} strokeWidth={2} />
      <polygon points="806,477.7 813,474.5 813,480.9" fill={E_G} />
      <line x1={966} x2={998} y1={432.7} y2={432.7} stroke={E_B} strokeWidth={2} />
      <polygon points="1003,432.7 996,429.5 996,435.9" fill={E_B} />
    </g>
  );
}

export default function App() {
  return (
    <svg width={1081} height={608} viewBox="0 0 1081 608" style={{ position: "absolute", left: 0, top: 0, background: "#fff" }} fontFamily={SANS}>
      <rect x={0} y={0} width={1081} height={608} fill="#fff" />
      <PanelA />
      <PanelB />
      <PanelC />
      <PanelD />
      <PanelE />
    </svg>
  );
}
